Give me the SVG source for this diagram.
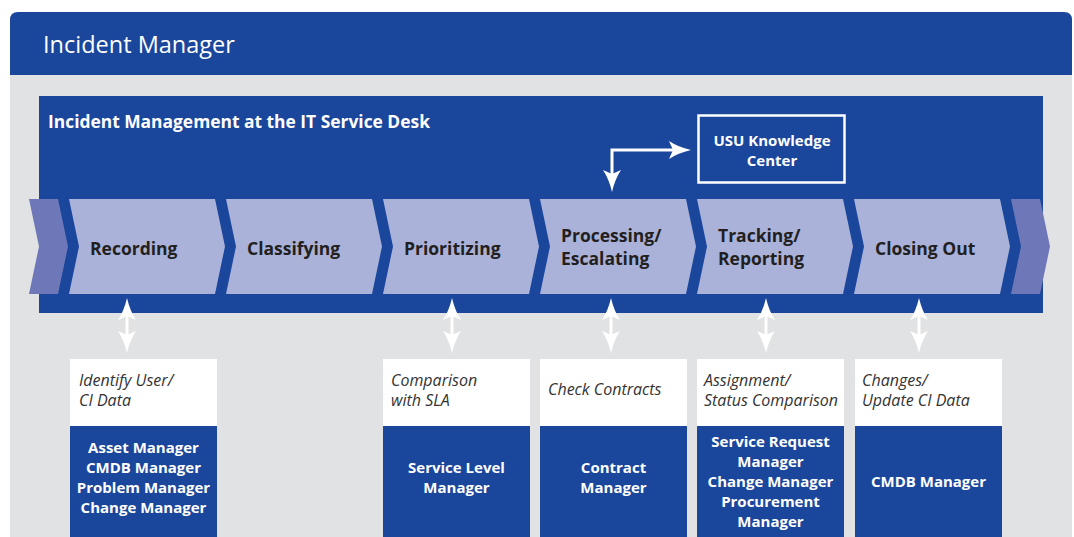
<svg xmlns="http://www.w3.org/2000/svg" width="1074" height="537" viewBox="0 0 1074 537">
<defs>
<style>
.blue{fill:#1a469c}
.chev{fill:#aab2d9}
.part{fill:#6e78b8}
.ctext{font-family:"Open Sans","Noto Sans",sans-serif;font-weight:bold;font-size:17.5px;fill:#231f20}
.itext{font-family:"Open Sans","Noto Sans",sans-serif;font-style:italic;font-size:16px;fill:#333}
.btext{font-family:"Open Sans","Noto Sans",sans-serif;font-weight:bold;font-size:15px;fill:#fff;text-anchor:middle}
.wline{stroke:#fff;stroke-width:3;fill:none}
</style>
<marker id="ah" viewBox="0 0 22 18" markerWidth="22" markerHeight="18" refX="12" refY="9" markerUnits="userSpaceOnUse" orient="auto-start-reverse">
<path d="M22,9 Q9,12 0,18 L4,9 L0,0 Q9,6 22,9 Z" fill="#fff"/>
</marker>
</defs>
<rect x="0" y="0" width="1074" height="537" fill="#fff"/>
<g id="frame">
<rect x="10" y="60" width="1062" height="477" fill="#e1e2e4"/>
<path d="M18,12 H1064 Q1072,12 1072,20 V75 H10 V20 Q10,12 18,12 Z" class="blue"/>
<text x="43" y="53" font-family="Open Sans,Noto Sans,sans-serif" font-size="23.5" fill="#fff">Incident Manager</text>
</g>
<g id="desk">
<rect x="39" y="96" width="1004" height="217" class="blue"/>
<text x="48" y="128" font-family="Open Sans,Noto Sans,sans-serif" font-weight="bold" font-size="17.4" fill="#fff">Incident Management at the IT Service Desk</text>
</g>
<g id="knowledge">
<rect x="698.5" y="115.5" width="146" height="67" fill="none" stroke="#fff" stroke-width="2.5"/>
<text x="772" y="146" class="btext">USU Knowledge</text>
<text x="772" y="166" class="btext">Center</text>
</g>
<g id="partial-left"><polygon class="part" points="29,199 58,199 68,246.5 58,294 29,294 39,246.5"/></g>
<g id="partial-right"><polygon class="part" points="1011,199 1040,199 1050,246.5 1040,294 1011,294 1021,246.5"/></g>
<g id="recording">
<polygon class="chev" points="69,199 215,199 225,246.5 215,294 69,294 79,246.5"/>
<text x="90" y="255" class="ctext">Recording</text>
</g>
<g id="classifying">
<polygon class="chev" points="226,199 372,199 382,246.5 372,294 226,294 236,246.5"/>
<text x="247" y="255" class="ctext">Classifying</text>
</g>
<g id="prioritizing">
<polygon class="chev" points="383,199 529,199 539,246.5 529,294 383,294 393,246.5"/>
<text x="404" y="255" class="ctext">Prioritizing</text>
</g>
<g id="processing">
<polygon class="chev" points="540,199 686,199 696,246.5 686,294 540,294 550,246.5"/>
<text x="561" y="242" class="ctext">Processing/</text>
<text x="561" y="265" class="ctext">Escalating</text>
</g>
<g id="tracking">
<polygon class="chev" points="697,199 843,199 853,246.5 843,294 697,294 707,246.5"/>
<text x="718" y="242" class="ctext">Tracking/</text>
<text x="718" y="265" class="ctext">Reporting</text>
</g>
<g id="closing">
<polygon class="chev" points="854,199 1000,199 1010,246.5 1000,294 854,294 864,246.5"/>
<text x="875" y="255" class="ctext">Closing Out</text>
</g>
<g id="box-recording">
<rect x="70" y="359" width="147" height="67" fill="#fff"/>
<rect x="70" y="426" width="147" height="111" class="blue"/>
<text x="79" y="386" class="itext">Identify User/</text>
<text x="79" y="406" class="itext">CI Data</text>
<text x="143.5" y="453" class="btext">Asset Manager</text>
<text x="143.5" y="473" class="btext">CMDB Manager</text>
<text x="143.5" y="493" class="btext">Problem Manager</text>
<text x="143.5" y="513" class="btext">Change Manager</text>
</g>
<g id="box-prioritizing">
<rect x="383" y="359" width="147" height="67" fill="#fff"/>
<rect x="383" y="426" width="147" height="111" class="blue"/>
<text x="391" y="386" class="itext">Comparison</text>
<text x="391" y="406" class="itext">with SLA</text>
<text x="456.5" y="473" class="btext">Service Level</text>
<text x="456.5" y="493" class="btext">Manager</text>
</g>
<g id="box-processing">
<rect x="540" y="359" width="147" height="67" fill="#fff"/>
<rect x="540" y="426" width="147" height="111" class="blue"/>
<text x="548" y="395" class="itext">Check Contracts</text>
<text x="613.5" y="473" class="btext">Contract</text>
<text x="613.5" y="493" class="btext">Manager</text>
</g>
<g id="box-tracking">
<rect x="697" y="359" width="147" height="67" fill="#fff"/>
<rect x="697" y="426" width="147" height="111" class="blue"/>
<text x="704" y="386" class="itext">Assignment/</text>
<text x="704" y="406" class="itext">Status Comparison</text>
<text x="770.5" y="447" class="btext">Service Request</text>
<text x="770.5" y="467" class="btext">Manager</text>
<text x="770.5" y="487" class="btext">Change Manager</text>
<text x="770.5" y="507" class="btext">Procurement</text>
<text x="770.5" y="527" class="btext">Manager</text>
</g>
<g id="box-closing">
<rect x="855" y="359" width="147" height="67" fill="#fff"/>
<rect x="855" y="426" width="147" height="111" class="blue"/>
<text x="862" y="386" class="itext">Changes/</text>
<text x="862" y="406" class="itext">Update CI Data</text>
<text x="928.5" y="487" class="btext">CMDB Manager</text>
</g>
<g id="connectors">
<path class="wline" d="M612,182 V150 H681" stroke-linejoin="miter" marker-start="url(#ah)" marker-end="url(#ah)"/>
<line class="wline" x1="127" y1="308" x2="127" y2="343" marker-start="url(#ah)" marker-end="url(#ah)"/>
<line class="wline" x1="452" y1="308" x2="452" y2="343" marker-start="url(#ah)" marker-end="url(#ah)"/>
<line class="wline" x1="611" y1="308" x2="611" y2="343" marker-start="url(#ah)" marker-end="url(#ah)"/>
<line class="wline" x1="766" y1="308" x2="766" y2="343" marker-start="url(#ah)" marker-end="url(#ah)"/>
<line class="wline" x1="919" y1="308" x2="919" y2="343" marker-start="url(#ah)" marker-end="url(#ah)"/>
</g>
</svg>
